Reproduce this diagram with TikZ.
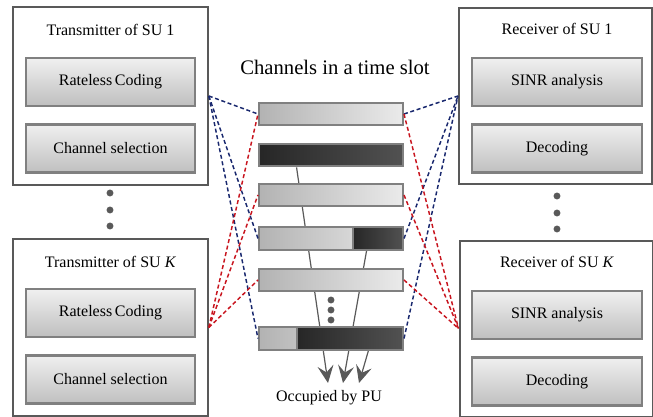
\documentclass[tikz,border=0pt]{standalone}
\usepackage{fontspec}
\setmainfont{Liberation Serif}
\usetikzlibrary{positioning,arrows.meta,calc,backgrounds}

\definecolor{linkA}{RGB}{25,40,110}
\definecolor{linkB}{RGB}{200,20,30}

\tikzset{
  subox/.style={draw=black!65, line width=1.5pt, minimum width=146pt,
    minimum height=133pt, inner sep=0pt},
  unit/.style={draw=black!50, line width=1.8pt, top color=black!6,
    bottom color=black!25, minimum width=127pt, minimum height=36pt,
    inner sep=0pt},
  chan/.style={draw=black!50, line width=1.5pt, left color=black!30,
    right color=black!8, minimum width=108pt, minimum height=17pt, inner sep=0pt},
  busy/.style={draw=black!50, line width=1.5pt, left color=black!85,
    right color=black!68, minimum height=17pt, inner sep=0pt},
  link/.style={line width=1.1pt, dash pattern=on 3pt off 2pt},
  pu/.style={draw=black!65, line width=0.9pt,
    -{Stealth[length=13pt,width=12pt,inset=5pt]}},
}

\begin{document}
\begin{tikzpicture}[x=0.75pt, y=-0.75pt, font=\fontsize{12}{14}\selectfont]
        \useasboundingbox (0,0) rectangle (653,417);

        % users on both sides
        \node[subox] (tx1) at (110.5,96) {};
        \node (tx1t) at (110.5,30) {Transmitter of SU 1};
        \node[unit] (rc1) at (110.5,82) {Rateless\,Coding};
        \node[unit, below=12pt of rc1] (cs1) {Channel selection};

        \node[subox] (txK) at (110.5,327.5) {};
        \node (txKt) at (110.5,262) {Transmitter of SU \textit{K}};
        \node[unit] (rcK) at (110.5,313) {Rateless\,Coding};
        \node[unit, below=12pt of rcK] (csK) {Channel selection};

        \node[subox, minimum width=144.75pt, minimum height=132pt] (rx1) at (555.5,96) {};
        \node (rx1t) at (557,29) {Receiver of SU 1};
        \node[unit, minimum width=127.5pt] (sa1) at (557,82) {SINR analysis};
        \node[unit, minimum width=127.5pt, below=12pt of sa1] (dc1) {Decoding};

        \node[subox, minimum width=144.75pt, minimum height=132pt] (rxK) at (556,328.5) {};
        \node (rxKt) at (557,262) {Receiver of SU \textit{K}};
        \node[unit, minimum width=127.5pt] (saK) at (557,315) {SINR analysis};
        \node[unit, minimum width=127.5pt, below=12pt of saK] (dcK) {Decoding};

        \foreach \y in {193,210,226} \fill[black!65] (110,\y) circle (2.6pt);
        \foreach \y in {196,213,229} \fill[black!65] (557,\y) circle (2.6pt);

        % channels
        \node[font=\fontsize{15.5}{18}\selectfont] (slot) at (335,67) {Channels in a time slot};
        \node (occ) at (329,398) {Occupied by PU};
        \coordinate (h1) at (328,383);
        \coordinate (h2) at (343,383);
        \coordinate (h3) at (359,383);

        \foreach \n/\y in {1/114, 2/155, 3/195, 4/238.5, 5/280, 6/338.5}
          \node[chan] (ch\n) at (331,\y) {};
        \node[busy, minimum width=108pt] (occ2) at (331,155) {};
        \node[busy, minimum width=37.5pt] (occ4) at (378,238.5) {};
        \node[busy, minimum width=79.5pt] (occ6) at (350,338.5) {};

        \begin{scope}[on background layer]
        \draw[pu] ($(occ2.south west)!0.264!(occ2.south east)$) -- (h1);
        \draw[pu] ($(occ4.south west)!0.28!(occ4.south east)$) -- (h2);
        \draw[pu] ($(occ6.south west)!0.67!(occ6.south east)$) -- (h3);
        \end{scope}

        \foreach \y in {300,310,320} \fill[black!65] (331,\y) circle (2.6pt);

        % links
        \foreach \c in {1,4,6} {
          \draw[link, linkA] (tx1.east) -- (ch\c.west);
          \draw[link, linkA] (ch\c.east) -- (rx1.west);
        }
        \foreach \c in {1,3,5} {
          \draw[link, linkB] (txK.east) -- (ch\c.west);
          \draw[link, linkB] (ch\c.east) -- (rxK.west);
        }

    \end{tikzpicture}
\end{document}
